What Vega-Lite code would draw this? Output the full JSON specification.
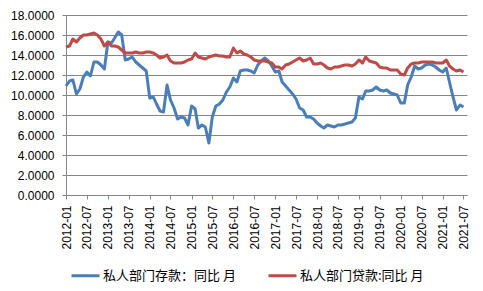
{
  "$schema": "https://vega.github.io/schema/vega-lite/v6.json",
  "width": 401,
  "height": 180,
  "autosize": "none",
  "padding": {"left": 66, "top": 15, "right": 16, "bottom": 96},
  "background": "white",
  "config": {
    "view": {"stroke": null},
    "axis": {"labelFont": "Liberation Sans", "labelFontSize": 12, "labelColor": "#000000", "domainColor": "#868686", "tickColor": "#868686", "gridColor": "#868686", "titleFont": "Liberation Sans"},
    "legend": {"labelFont": "Noto Sans CJK SC", "labelFontSize": 13, "labelColor": "#000000"}
  },
  "data": {"values": [
    {"d":"2012-01","a":10.9,"b":14.8},{"d":"2012-02","a":11.4,"b":14.9},{"d":"2012-03","a":11.5,"b":15.6},{"d":"2012-04","a":10.1,"b":15.3},{"d":"2012-05","a":10.6,"b":15.7},{"d":"2012-06","a":11.8,"b":16.0},{"d":"2012-07","a":12.3,"b":16.0},{"d":"2012-08","a":11.9,"b":16.1},{"d":"2012-09","a":13.3,"b":16.2},{"d":"2012-10","a":13.3,"b":16.0},{"d":"2012-11","a":13.0,"b":15.6},{"d":"2012-12","a":12.6,"b":14.9},
    {"d":"2013-01","a":15.3,"b":15.3},{"d":"2013-02","a":15.2,"b":14.9},{"d":"2013-03","a":15.7,"b":14.9},{"d":"2013-04","a":16.3,"b":14.8},{"d":"2013-05","a":16.0,"b":14.5},{"d":"2013-06","a":13.5,"b":14.2},{"d":"2013-07","a":13.6,"b":14.2},{"d":"2013-08","a":13.8,"b":14.2},{"d":"2013-09","a":13.3,"b":14.3},{"d":"2013-10","a":13.0,"b":14.2},{"d":"2013-11","a":12.7,"b":14.2},{"d":"2013-12","a":12.4,"b":14.3},
    {"d":"2014-01","a":9.7,"b":14.3},{"d":"2014-02","a":9.8,"b":14.2},{"d":"2014-03","a":9.1,"b":14.0},{"d":"2014-04","a":8.4,"b":13.7},{"d":"2014-05","a":8.3,"b":13.8},{"d":"2014-06","a":11.0,"b":14.0},{"d":"2014-07","a":9.5,"b":13.4},{"d":"2014-08","a":8.7,"b":13.2},{"d":"2014-09","a":7.6,"b":13.2},{"d":"2014-10","a":7.8,"b":13.2},{"d":"2014-11","a":7.7,"b":13.3},{"d":"2014-12","a":7.0,"b":13.5},
    {"d":"2015-01","a":8.9,"b":13.6},{"d":"2015-02","a":8.6,"b":14.2},{"d":"2015-03","a":6.7,"b":13.8},{"d":"2015-04","a":7.0,"b":13.7},{"d":"2015-05","a":6.8,"b":13.6},{"d":"2015-06","a":5.2,"b":13.8},{"d":"2015-07","a":7.8,"b":13.9},{"d":"2015-08","a":8.9,"b":14.0},{"d":"2015-09","a":9.1,"b":13.9},{"d":"2015-10","a":9.5,"b":13.9},{"d":"2015-11","a":10.3,"b":13.8},{"d":"2015-12","a":10.8,"b":13.8},
    {"d":"2016-01","a":11.7,"b":14.7},{"d":"2016-02","a":11.3,"b":14.2},{"d":"2016-03","a":12.4,"b":14.4},{"d":"2016-04","a":12.5,"b":14.1},{"d":"2016-05","a":12.5,"b":14.0},{"d":"2016-06","a":12.4,"b":13.8},{"d":"2016-07","a":12.2,"b":13.5},{"d":"2016-08","a":13.0,"b":13.4},{"d":"2016-09","a":13.4,"b":13.4},{"d":"2016-10","a":13.7,"b":13.4},{"d":"2016-11","a":13.4,"b":13.3},{"d":"2016-12","a":12.9,"b":13.2},
    {"d":"2017-01","a":12.3,"b":12.8},{"d":"2017-02","a":12.4,"b":12.8},{"d":"2017-03","a":11.3,"b":12.6},{"d":"2017-04","a":10.9,"b":13.0},{"d":"2017-05","a":10.5,"b":13.1},{"d":"2017-06","a":10.1,"b":13.3},{"d":"2017-07","a":9.6,"b":13.5},{"d":"2017-08","a":8.7,"b":13.7},{"d":"2017-09","a":8.5,"b":13.4},{"d":"2017-10","a":7.8,"b":13.5},{"d":"2017-11","a":7.8,"b":13.7},{"d":"2017-12","a":7.6,"b":13.1},
    {"d":"2018-01","a":7.2,"b":13.1},{"d":"2018-02","a":6.9,"b":13.2},{"d":"2018-03","a":6.7,"b":13.0},{"d":"2018-04","a":7.0,"b":12.7},{"d":"2018-05","a":6.9,"b":12.6},{"d":"2018-06","a":6.8,"b":12.8},{"d":"2018-07","a":7.0,"b":12.8},{"d":"2018-08","a":7.0,"b":12.9},{"d":"2018-09","a":7.1,"b":13.0},{"d":"2018-10","a":7.2,"b":13.0},{"d":"2018-11","a":7.3,"b":12.9},{"d":"2018-12","a":7.7,"b":13.1},
    {"d":"2019-01","a":9.8,"b":13.5},{"d":"2019-02","a":9.6,"b":13.2},{"d":"2019-03","a":10.4,"b":13.8},{"d":"2019-04","a":10.4,"b":13.4},{"d":"2019-05","a":10.5,"b":13.3},{"d":"2019-06","a":10.8,"b":13.2},{"d":"2019-07","a":10.5,"b":12.8},{"d":"2019-08","a":10.4,"b":12.7},{"d":"2019-09","a":10.5,"b":12.7},{"d":"2019-10","a":10.2,"b":12.5},{"d":"2019-11","a":10.1,"b":12.5},{"d":"2019-12","a":10.0,"b":12.5},
    {"d":"2020-01","a":9.2,"b":12.1},{"d":"2020-02","a":9.2,"b":12.0},{"d":"2020-03","a":11.0,"b":12.7},{"d":"2020-04","a":11.8,"b":13.1},{"d":"2020-05","a":12.9,"b":13.2},{"d":"2020-06","a":12.6,"b":13.2},{"d":"2020-07","a":12.7,"b":13.3},{"d":"2020-08","a":13.0,"b":13.3},{"d":"2020-09","a":13.1,"b":13.3},{"d":"2020-10","a":13.0,"b":13.3},{"d":"2020-11","a":12.8,"b":13.2},{"d":"2020-12","a":12.5,"b":13.2},
    {"d":"2021-01","a":12.3,"b":13.2},{"d":"2021-02","a":12.7,"b":13.5},{"d":"2021-03","a":11.3,"b":12.9},{"d":"2021-04","a":9.8,"b":12.6},{"d":"2021-05","a":8.5,"b":12.4},{"d":"2021-06","a":9.0,"b":12.5},{"d":"2021-07","a":8.8,"b":12.3}
  ]},
  "transform": [{"fold": ["a", "b"], "as": ["series", "value"]}],
  "mark": {"type": "line", "strokeWidth": 3, "strokeJoin": "round", "strokeCap": "butt"},
  "encoding": {
    "x": {
      "field": "d", "type": "temporal",
      "scale": {"type": "utc", "domain": [{"year": 2012, "month": 1, "date": 1, "utc": true}, {"year": 2021, "month": 8, "date": 1, "utc": true}]},
      "axis": {
        "title": null, "grid": false, "labelExpr": "utcFormat(datum.value, '%Y-%m')", "labelAngle": -90, "labelPadding": 6, "tickSize": 4,
        "values": [
          {"year": 2012, "month": 1, "date": 1, "utc": true}, {"year": 2012, "month": 7, "date": 1, "utc": true},
          {"year": 2013, "month": 1, "date": 1, "utc": true}, {"year": 2013, "month": 7, "date": 1, "utc": true},
          {"year": 2014, "month": 1, "date": 1, "utc": true}, {"year": 2014, "month": 7, "date": 1, "utc": true},
          {"year": 2015, "month": 1, "date": 1, "utc": true}, {"year": 2015, "month": 7, "date": 1, "utc": true},
          {"year": 2016, "month": 1, "date": 1, "utc": true}, {"year": 2016, "month": 7, "date": 1, "utc": true},
          {"year": 2017, "month": 1, "date": 1, "utc": true}, {"year": 2017, "month": 7, "date": 1, "utc": true},
          {"year": 2018, "month": 1, "date": 1, "utc": true}, {"year": 2018, "month": 7, "date": 1, "utc": true},
          {"year": 2019, "month": 1, "date": 1, "utc": true}, {"year": 2019, "month": 7, "date": 1, "utc": true},
          {"year": 2020, "month": 1, "date": 1, "utc": true}, {"year": 2020, "month": 7, "date": 1, "utc": true},
          {"year": 2021, "month": 1, "date": 1, "utc": true}, {"year": 2021, "month": 7, "date": 1, "utc": true}
        ]
      }
    },
    "y": {
      "field": "value", "type": "quantitative",
      "scale": {"domain": [0, 18], "nice": false, "zero": true},
      "axis": {"title": null, "values": [0, 2, 4, 6, 8, 10, 12, 14, 16, 18], "format": ".4f", "tickSize": 4, "labelPadding": 8, "grid": true, "gridWidth": 1}
    },
    "color": {
      "field": "series", "type": "nominal",
      "scale": {"domain": ["a", "b"], "range": ["#4A7EBB", "#BE4B48"]},
      "legend": {
        "title": null, "orient": "none", "legendX": 4, "legendY": 245, "direction": "horizontal", "columns": 2, "columnPadding": 26,
        "symbolType": "stroke", "symbolSize": 784, "symbolStrokeWidth": 3, "labelOffset": 2, "labelFontSize": 13,
        "labelExpr": "datum.value == 'a' ? '私人部门存款：同比 月' : '私人部门贷款:同比 月'"
      }
    }
  }
}
